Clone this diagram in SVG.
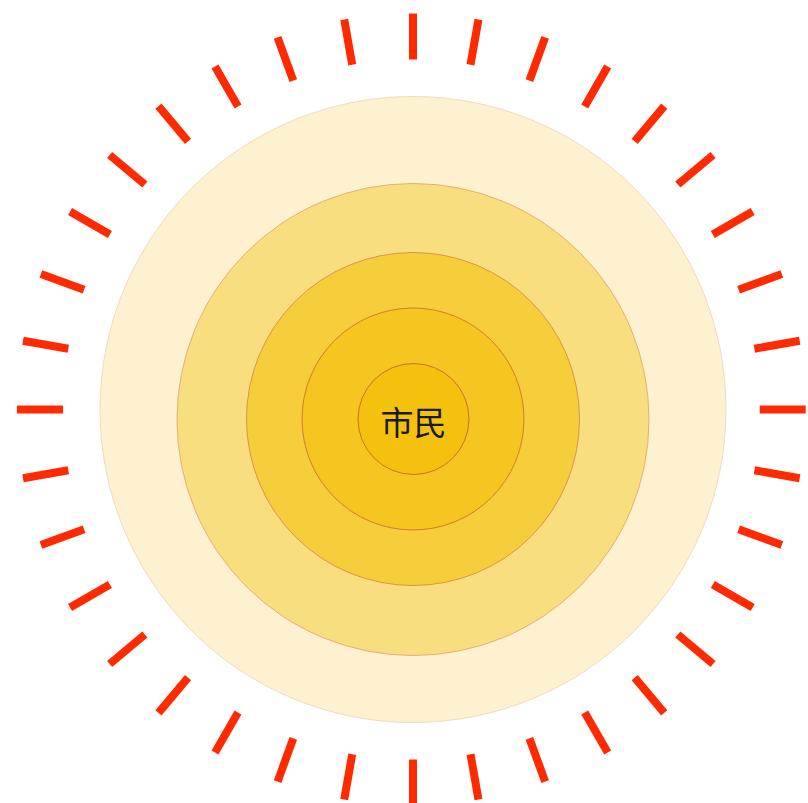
<svg xmlns="http://www.w3.org/2000/svg" xmlns:xlink="http://www.w3.org/1999/xlink" width="808" height="803" viewBox="0 0 808 803">
  <style>
    .ray { stroke: #ff2a00; stroke-width: 8; }
    .label { font-family: "Noto Sans CJK SC", "Noto Sans", sans-serif; font-size: 33px; fill: #1a1a1a; text-anchor: middle; dominant-baseline: central; }
  </style>
  <defs>
    <line id="r" class="ray" x1="413" y1="59.5" x2="413" y2="13.5"/>
  </defs>
  <rect width="808" height="803" fill="#ffffff"/>
  <g id="rays">
    <use xlink:href="#r" transform="rotate(0 413 409.5)"/>
    <g transform="translate(-3.3 0)">
      <use xlink:href="#r" transform="rotate(10 413 409.5)"/>
      <use xlink:href="#r" transform="rotate(20 413 409.5)"/>
      <use xlink:href="#r" transform="rotate(30 413 409.5)"/>
      <use xlink:href="#r" transform="rotate(40 413 409.5)"/>
      <use xlink:href="#r" transform="rotate(50 413 409.5)"/>
      <use xlink:href="#r" transform="rotate(60 413 409.5)"/>
      <use xlink:href="#r" transform="rotate(70 413 409.5)"/>
      <use xlink:href="#r" transform="rotate(80 413 409.5)"/>
      <use xlink:href="#r" transform="rotate(90 413 409.5)"/>
      <use xlink:href="#r" transform="rotate(100 413 409.5)"/>
      <use xlink:href="#r" transform="rotate(110 413 409.5)"/>
      <use xlink:href="#r" transform="rotate(120 413 409.5)"/>
      <use xlink:href="#r" transform="rotate(130 413 409.5)"/>
      <use xlink:href="#r" transform="rotate(140 413 409.5)"/>
      <use xlink:href="#r" transform="rotate(150 413 409.5)"/>
      <use xlink:href="#r" transform="rotate(160 413 409.5)"/>
      <use xlink:href="#r" transform="rotate(170 413 409.5)"/>
    </g>
    <use xlink:href="#r" transform="rotate(180 413 409.5)"/>
    <use xlink:href="#r" transform="rotate(190 413 409.5)"/>
    <use xlink:href="#r" transform="rotate(200 413 409.5)"/>
    <use xlink:href="#r" transform="rotate(210 413 409.5)"/>
    <use xlink:href="#r" transform="rotate(220 413 409.5)"/>
    <use xlink:href="#r" transform="rotate(230 413 409.5)"/>
    <use xlink:href="#r" transform="rotate(240 413 409.5)"/>
    <use xlink:href="#r" transform="rotate(250 413 409.5)"/>
    <use xlink:href="#r" transform="rotate(260 413 409.5)"/>
    <use xlink:href="#r" transform="rotate(270 413 409.5)"/>
    <use xlink:href="#r" transform="rotate(280 413 409.5)"/>
    <use xlink:href="#r" transform="rotate(290 413 409.5)"/>
    <use xlink:href="#r" transform="rotate(300 413 409.5)"/>
    <use xlink:href="#r" transform="rotate(310 413 409.5)"/>
    <use xlink:href="#r" transform="rotate(320 413 409.5)"/>
    <use xlink:href="#r" transform="rotate(330 413 409.5)"/>
    <use xlink:href="#r" transform="rotate(340 413 409.5)"/>
    <use xlink:href="#r" transform="rotate(350 413 409.5)"/>
  </g>
  <g id="ring1"><circle cx="413" cy="409.5" r="313" fill="#fdf1cf" stroke="#f1d9c2" stroke-width="1"/></g>
  <g id="ring2"><circle cx="413" cy="419.5" r="236" fill="#f9de80" stroke="#e2b074" stroke-width="1"/></g>
  <g id="ring3"><circle cx="413" cy="419" r="166.5" fill="#f6ce3c" stroke="#d99546" stroke-width="1"/></g>
  <g id="ring4"><circle cx="413" cy="419" r="111" fill="#f5c520" stroke="#d07d30" stroke-width="1"/></g>
  <g id="core">
    <circle cx="413.5" cy="419" r="55.5" fill="#f5c10f" stroke="#c8702a" stroke-width="1"/>
    <text class="label" x="413.5" y="421">市民</text>
  </g>
</svg>
